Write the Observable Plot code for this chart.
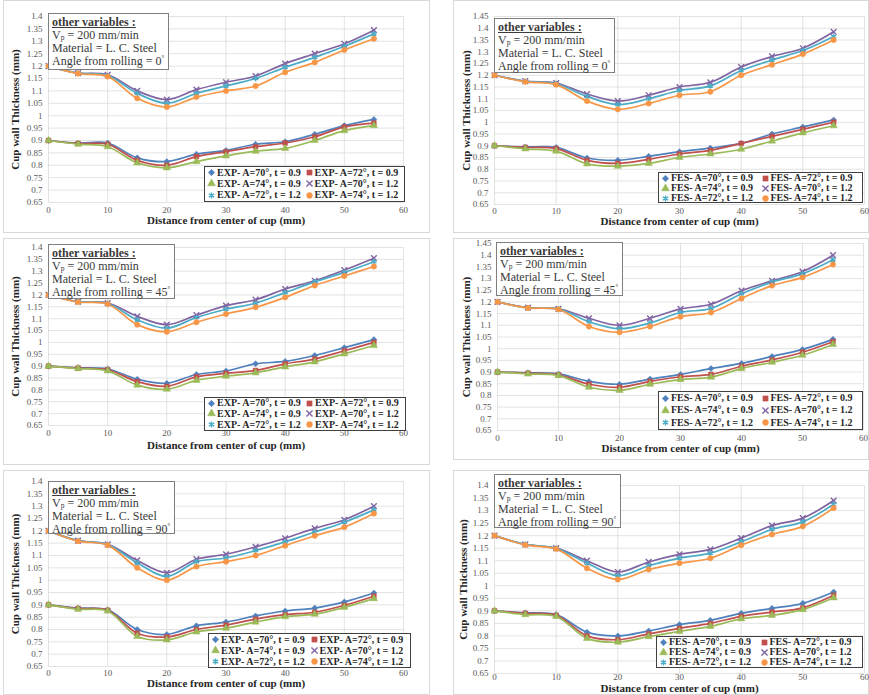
<!DOCTYPE html>
<html><head><meta charset="utf-8">
<script src="https://cdn.jsdelivr.net/npm/d3@7"></script>
<script src="https://cdn.jsdelivr.net/npm/@observablehq/plot@0.6"></script>
<style>
body{margin:0;background:#fff;}
#page{position:relative;width:869px;height:695px;overflow:hidden;font-family:"Liberation Serif","Times New Roman",serif;background:#fff;}
.box{position:absolute;border:1px solid #d9d9d9;box-sizing:border-box;}
.plot{position:absolute;}
.plot svg{overflow:visible;}
.note{position:absolute;background:#fff;border:1.5px solid #7f7f7f;box-sizing:border-box;padding:2px 4px 0 3px;font-size:12px;line-height:13px;color:#3a3a3a;white-space:nowrap;}
.note .h{font-weight:bold;text-decoration:underline;}
.note sub{font-size:7.5px;line-height:0;vertical-align:-1px;}
.note sup{font-size:7px;line-height:0;vertical-align:5px;}
.legend{position:absolute;background:#fff;border:1px solid #404040;box-sizing:border-box;display:grid;grid-template-columns:1fr 1fr;align-content:space-around;padding:0 2px;font-size:10px;font-weight:bold;color:#262626;white-space:nowrap;}
.legend span{display:flex;align-items:center;line-height:10px;}
.legend svg{margin-right:1px;}
</style></head>
<body><div id="page"></div>
<script>
// ---- data ----
const xs = [0, 5, 10, 15, 20, 25, 30, 35, 40, 45, 50, 55];
const xTicks = [0, 10, 20, 30, 40, 50, 60];
const seriesLabels = ["A=70°, t = 0.9", "A=72°, t = 0.9", "A=74°, t = 0.9", "A=70°, t = 1.2", "A=72°, t = 1.2", "A=74°, t = 1.2"];
const angles = ["0", "0", "45", "45", "90", "90"];
const prefixes = ["EXP", "FES", "EXP", "FES", "EXP", "FES"];
const xTitle = "Distance from center of cup (mm)";
const yTitle = "Cup wall Thickness (mm)";

const exp0 = [
  [0.9, 0.89, 0.89, 0.83, 0.815, 0.845, 0.86, 0.885, 0.895, 0.925, 0.96, 0.985],
  [0.9, 0.888, 0.885, 0.82, 0.80, 0.835, 0.855, 0.875, 0.89, 0.915, 0.955, 0.97],
  [0.9, 0.885, 0.875, 0.81, 0.79, 0.815, 0.838, 0.857, 0.868, 0.9, 0.94, 0.96],
  [1.2, 1.172, 1.165, 1.10, 1.065, 1.105, 1.135, 1.16, 1.21, 1.25, 1.29, 1.345],
  [1.2, 1.172, 1.162, 1.09, 1.05, 1.09, 1.12, 1.15, 1.195, 1.235, 1.28, 1.33],
  [1.2, 1.17, 1.158, 1.07, 1.035, 1.075, 1.10, 1.12, 1.175, 1.215, 1.265, 1.31]
];
const fes0 = [
  [0.9, 0.895, 0.893, 0.848, 0.838, 0.855, 0.875, 0.89, 0.91, 0.95, 0.98, 1.01],
  [0.9, 0.893, 0.888, 0.838, 0.825, 0.842, 0.865, 0.88, 0.91, 0.94, 0.97, 1.0],
  [0.9, 0.887, 0.877, 0.823, 0.813, 0.825, 0.85, 0.865, 0.885, 0.92, 0.955, 0.985],
  [1.2, 1.175, 1.167, 1.12, 1.09, 1.115, 1.15, 1.17, 1.235, 1.28, 1.315, 1.385],
  [1.2, 1.174, 1.164, 1.11, 1.075, 1.10, 1.135, 1.155, 1.22, 1.265, 1.305, 1.365],
  [1.2, 1.172, 1.16, 1.09, 1.055, 1.08, 1.115, 1.13, 1.2, 1.245, 1.29, 1.35]
];
const exp45 = [
  [0.9, 0.893, 0.888, 0.845, 0.828, 0.865, 0.88, 0.91, 0.92, 0.945, 0.978, 1.012],
  [0.9, 0.892, 0.885, 0.835, 0.815, 0.855, 0.87, 0.882, 0.91, 0.93, 0.965, 1.0],
  [0.9, 0.89, 0.88, 0.82, 0.803, 0.84, 0.858, 0.872, 0.897, 0.918, 0.952, 0.987],
  [1.2, 1.172, 1.166, 1.11, 1.075, 1.115, 1.155, 1.18, 1.225, 1.26, 1.305, 1.355],
  [1.2, 1.172, 1.164, 1.095, 1.06, 1.105, 1.14, 1.165, 1.21, 1.255, 1.295, 1.34],
  [1.2, 1.17, 1.162, 1.075, 1.045, 1.085, 1.12, 1.148, 1.19, 1.24, 1.28, 1.32]
];
const fes45 = [
  [0.9, 0.897, 0.892, 0.86, 0.848, 0.87, 0.89, 0.915, 0.937, 0.967, 0.997, 1.04],
  [0.9, 0.895, 0.888, 0.848, 0.835, 0.86, 0.88, 0.89, 0.925, 0.952, 0.985, 1.03],
  [0.9, 0.892, 0.885, 0.835, 0.822, 0.848, 0.868, 0.878, 0.915, 0.942, 0.972, 1.018],
  [1.2, 1.176, 1.17, 1.13, 1.10, 1.13, 1.17, 1.19, 1.248, 1.29, 1.33, 1.40],
  [1.2, 1.175, 1.17, 1.115, 1.085, 1.11, 1.155, 1.172, 1.235, 1.285, 1.32, 1.38],
  [1.2, 1.174, 1.168, 1.095, 1.07, 1.095, 1.137, 1.155, 1.215, 1.27, 1.305, 1.36]
];
const exp90 = [
  [0.9, 0.887, 0.88, 0.80, 0.78, 0.815, 0.83, 0.855, 0.875, 0.887, 0.912, 0.948],
  [0.9, 0.885, 0.878, 0.785, 0.77, 0.80, 0.818, 0.842, 0.86, 0.87, 0.898, 0.935],
  [0.9, 0.882, 0.875, 0.772, 0.758, 0.79, 0.805, 0.83, 0.852, 0.862, 0.89, 0.925],
  [1.2, 1.16, 1.145, 1.08, 1.03, 1.085, 1.105, 1.135, 1.17, 1.21, 1.245, 1.30],
  [1.2, 1.16, 1.144, 1.07, 1.015, 1.075, 1.09, 1.12, 1.155, 1.195, 1.235, 1.285],
  [1.2, 1.158, 1.142, 1.05, 1.0, 1.055, 1.075, 1.10, 1.14, 1.18, 1.215, 1.27]
];
const fes90 = [
  [0.9, 0.892, 0.885, 0.815, 0.80, 0.82, 0.845, 0.862, 0.89, 0.91, 0.93, 0.975],
  [0.9, 0.89, 0.882, 0.80, 0.785, 0.808, 0.83, 0.85, 0.878, 0.895, 0.912, 0.962],
  [0.9, 0.885, 0.878, 0.79, 0.775, 0.797, 0.818, 0.838, 0.868, 0.882, 0.905, 0.952],
  [1.2, 1.165, 1.15, 1.10, 1.055, 1.095, 1.125, 1.145, 1.19, 1.24, 1.27, 1.34],
  [1.2, 1.165, 1.149, 1.09, 1.04, 1.08, 1.11, 1.13, 1.175, 1.225, 1.255, 1.325],
  [1.2, 1.163, 1.147, 1.07, 1.025, 1.065, 1.09, 1.11, 1.162, 1.205, 1.237, 1.31]
];
const yMaxes = [1.4, 1.45, 1.4, 1.45, 1.4, 1.4];
const panelData = [exp0, fes0, exp45, fes45, exp90, fes90];

// ---- styles ----
const colors = ["#4F81BD", "#C0504D", "#9BBB59", "#8064A2", "#4BACC6", "#F79646"];
const symbols = ["diamond2", "square", "triangle", "times", "asterisk", "circle"];
const d3Symbols = [d3.symbolDiamond2 || d3.symbolDiamond, d3.symbolSquare, d3.symbolTriangle, d3.symbolTimes || d3.symbolCross, d3.symbolAsterisk || d3.symbolStar, d3.symbolCircle];
const strokeOnly = [false, false, false, true, true, false];

// ---- layout (page pixels) ----
const layout = [
  {box:[3,0,430,233],   x0:48,  x1:403, yT:16,  yB:202, tOff:9,  xtOff:21, ytDx:33, note:[48,13,57],  leg:[204,166,201,36]},
  {box:[453,0,869,233], x0:494, x1:864, yT:16,  yB:204, tOff:8,  xtOff:20, ytDx:28, note:[494,18,55], leg:[658,172,205,31]},
  {box:[3,238,430,465], x0:48,  x1:403, yT:247, yB:425, tOff:9,  xtOff:23, ytDx:33, note:[48,244,55], leg:[204,397,202,34]},
  {box:[453,238,869,460], x0:497, x1:863, yT:243, yB:430, tOff:9, xtOff:21, ytDx:31, note:[496,242,54], leg:[658,391,205,39]},
  {box:[3,470,430,695], x0:48,  x1:403, yT:481, yB:666, tOff:8,  xtOff:20, ytDx:33, note:[48,481,53], leg:[208,633,203,35]},
  {box:[453,470,869,695], x0:494, x1:864, yT:485, yB:673, tOff:5, xtOff:18, ytDx:31, note:[494,474,54], leg:[656,636,207,32]}
];

const fmt = d => String(+d.toFixed(2));
const page = document.getElementById("page");

function legendSymbol(i) {
  const path = d3.symbol(d3Symbols[i], 26)();
  const f = strokeOnly[i] ? "none" : colors[i];
  return `<svg width="9" height="9" viewBox="-4.5 -4.5 9 9"><path d="${path}" fill="${f}" stroke="${colors[i]}" stroke-width="${strokeOnly[i] ? 1.4 : 0.6}"/></svg>`;
}

panelData.forEach((data, pi) => {
  const L = layout[pi];
  const [bl, bt, br, bb] = L.box;
  const frame = document.createElement("div");
  frame.className = "box";
  Object.assign(frame.style, {left: bl + "px", top: bt + "px", width: (br - bl) + "px", height: (bb - bt) + "px"});
  page.appendChild(frame);

  const yMax = yMaxes[pi];
  const yTicks = d3.range(0, Math.round((yMax - 0.65) / 0.05) + 1).map(k => +(0.65 + k * 0.05).toFixed(2));
  const rows = [];
  data.forEach((vals, si) => vals.forEach((v, i) => rows.push({x: xs[i], y: v, s: si})));

  const marks = [
    Plot.gridY(yTicks, {stroke: "#dcdcdc", strokeOpacity: 1, strokeWidth: 0.8}),
    Plot.gridX(xTicks, {stroke: "#dcdcdc", strokeOpacity: 1, strokeWidth: 0.8}),
    Plot.axisX(xTicks, {tickSize: 0, tickPadding: L.tOff - 5, label: null, tickFormat: d => String(d)}),
    Plot.axisY(yTicks, {tickSize: 0, tickPadding: 6, label: null, tickFormat: fmt})
  ];
  data.forEach((vals, si) => {
    const sr = rows.filter(r => r.s === si);
    marks.push(Plot.line(sr, {x: "x", y: "y", stroke: colors[si], strokeWidth: 1.7, curve: "catmull-rom"}));
  });
  data.forEach((vals, si) => {
    const sr = rows.filter(r => r.s === si);
    marks.push(Plot.dot(sr, {x: "x", y: "y", symbol: () => symbols[si], r: 2.7,
      fill: strokeOnly[si] ? "none" : colors[si], stroke: colors[si], strokeWidth: strokeOnly[si] ? 1.4 : 0.5}));
  });
  marks.push(Plot.text([yTitle], {text: d => d, frameAnchor: "left", dx: -L.ytDx, rotate: -90, textAnchor: "middle",
    fontWeight: "bold", fontSize: 11, fill: "#262626"}));
  marks.push(Plot.text([xTitle], {text: d => d, frameAnchor: "bottom", dy: L.xtOff, textAnchor: "middle",
    fontWeight: "bold", fontSize: 11, fill: "#262626"}));

  const chart = Plot.plot({
    width: br - bl, height: bb - bt,
    marginLeft: L.x0 - bl, marginRight: br - L.x1,
    marginTop: L.yT - bt, marginBottom: bb - L.yB,
    x: {domain: [0, 60]},
    y: {domain: [0.65, yMax]},
    symbol: {type: "identity"},
    style: {fontFamily: "'Liberation Serif', 'Times New Roman', serif", fontSize: "9px", color: "#595959", background: "transparent", overflow: "visible"},
    marks
  });
  const holder = document.createElement("div");
  holder.className = "plot";
  Object.assign(holder.style, {left: bl + "px", top: bt + "px"});
  holder.appendChild(chart);
  page.appendChild(holder);

  const [nl, nt, nh] = L.note;
  const note = document.createElement("div");
  note.className = "note";
  Object.assign(note.style, {left: nl + "px", top: nt + "px", height: nh + "px"});
  note.innerHTML = `<div class="h">other variables :</div><div>V<sub>p</sub> = 200 mm/min</div><div>Material = L. C. Steel</div><div>Angle from rolling = ${angles[pi]}<sup>°</sup></div>`;
  page.appendChild(note);

  const [ll, lt, lw, lh] = L.leg;
  const leg = document.createElement("div");
  leg.className = "legend";
  Object.assign(leg.style, {left: ll + "px", top: lt + "px", width: lw + "px", height: lh + "px"});
  leg.innerHTML = seriesLabels.map((s, i) => `<span>${legendSymbol(i)}${prefixes[pi]}- ${s}</span>`).join("");
  page.appendChild(leg);
});
</script>
</body></html>
